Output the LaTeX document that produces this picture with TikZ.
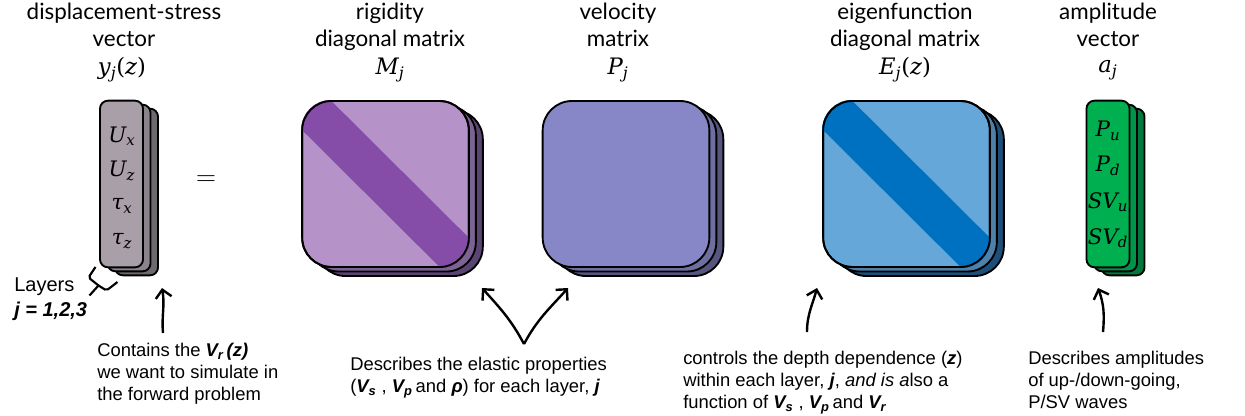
\documentclass[tikz,border=0pt]{standalone}
\usepackage{fontspec}
\setmainfont{Liberation Sans}
\newfontfamily\hfont{Lato}
\newfontfamily\mfont{DejaVu Serif}
\newcommand\mi[1]{{\mfont\itshape #1}}
\newcommand\mup[1]{{\mfont #1}}
\newcommand\msub[2]{\mi{#1}\textsubscript{\mi{#2}}}
\usetikzlibrary{arrows.meta}
\definecolor{gA}{HTML}{A99FA9}
\definecolor{gB}{HTML}{8B838B}
\definecolor{gC}{HTML}{6E686F}
\definecolor{pA}{HTML}{B593C9}
\definecolor{pBand}{HTML}{854DA8}
\definecolor{pB}{HTML}{7D6294}
\definecolor{pC}{HTML}{5A4572}
\definecolor{vA}{HTML}{8787C7}
\definecolor{vB}{HTML}{6E6EA0}
\definecolor{vC}{HTML}{55557F}
\definecolor{bA}{HTML}{65A7D9}
\definecolor{bBand}{HTML}{0071C1}
\definecolor{bB}{HTML}{4E80A8}
\definecolor{bC}{HTML}{1E4F78}
\definecolor{grA}{HTML}{00B050}
\definecolor{grB}{HTML}{00944A}
\definecolor{grC}{HTML}{007A3C}
\begin{document}
\begin{tikzpicture}[x=0.75pt,y=-0.75pt,
  hdr/.style={font=\hfont\fontsize{16.8}{20.25}\selectfont, align=center, anchor=north, inner sep=0pt},
  hmath/.style={font=\fontsize{17}{20}\selectfont, inner sep=0pt},
  desc/.style={font=\fontsize{13.8}{16.6}\selectfont, align=left, anchor=north west, inner sep=0pt},
  vecbox/.style={draw=black, line width=1.4pt, rounded corners=6pt, minimum width=32.3pt, minimum height=125pt, inner sep=0pt},
  matbox/.style={draw=black, line width=1.4pt, rounded corners=22pt, minimum width=125pt, minimum height=124.5pt, inner sep=0pt},
  ent/.style={font=\fontsize{16}{19}\selectfont, inner sep=0pt},
  arr/.style={line width=1.8pt, -{Straight Barb[length=6pt,width=12pt,line width=1.8pt]}},
]
\useasboundingbox (0,0) rectangle (1245,415);

% ---------- headers ----------
\node[hdr] (h1) at (124,3) {displacement-stress\\vector};
\node[hmath] (h1m) at (122,70) {\msub{y}{j}\mup{(}\mi{z}\mup{)}};
\node[hdr] (h2) at (390,3) {rigidity\\diagonal matrix};
\node[hmath] (h2m) at (390,70) {\msub{M}{j}};
\node[hdr] (h3) at (618,3) {velocity\\matrix};
\node[hmath] (h3m) at (618,70) {\msub{P}{j}};
\node[hdr] (h4) at (905,3) {eigenfunction\\diagonal matrix};
\node[hmath] (h4m) at (905,70) {\msub{E}{j}\mup{(}\mi{z}\mup{)}};
\node[hdr] (h5) at (1108,3) {amplitude\\vector};
\node[hmath] (h5m) at (1108,70) {\msub{a}{j}};

% ---------- displacement-stress vector ----------
\node[vecbox, fill=gC] (y3) at (136.5,192) {};
\node[vecbox, fill=gB] (y2) at (129,188) {};
\node[vecbox, fill=gA] (y1) at (121.5,184) {};
\node[ent] (ux) at (122,136) {\msub{U}{x}};
\node[ent] (uz) at (122,171) {\msub{U}{z}};
\node[ent] (tx) at (122,206) {\msub{τ}{x}};
\node[ent] (tz) at (122,241) {\msub{τ}{z}};

\node[font=\fontsize{21}{24}\selectfont, inner sep=0pt] (eq) at (206,181) {$=$};

% ---------- rigidity matrix ----------
\node[matbox, fill=pC] (m3) at (399.5,193) {};
\node[matbox, fill=pB] (m2) at (392.5,188.5) {};
\node[matbox, fill=pA] (m1) at (385.5,184) {};
\begin{scope}
  \clip[rounded corners=22pt] (m1.south west) rectangle (m1.north east);
  \draw[pBand, line width=31pt, line cap=round] ([shift={(6,6)}]m1.north west) -- ([shift={(-13,-13)}]m1.south east);
\end{scope}
\node[matbox] at (m1) {};

% ---------- velocity matrix ----------
\node[matbox, fill=vC] (p3) at (640,193) {};
\node[matbox, fill=vB] (p2) at (633,188.5) {};
\node[matbox, fill=vA] (p1) at (626,184) {};

% ---------- eigenfunction matrix ----------
\node[matbox, fill=bC] (e3) at (920.5,193) {};
\node[matbox, fill=bB] (e2) at (913.5,188.5) {};
\node[matbox, fill=bA] (e1) at (906.5,184) {};
\begin{scope}
  \clip[rounded corners=22pt] (e1.south west) rectangle (e1.north east);
  \draw[bBand, line width=31pt, line cap=round] ([shift={(6,6)}]e1.north west) -- ([shift={(-13,-13)}]e1.south east);
\end{scope}
\node[matbox] at (e1) {};

% ---------- amplitude vector ----------
\node[vecbox, fill=grC] (a3) at (1123,192) {};
\node[vecbox, fill=grB] (a2) at (1115.5,188) {};
\node[vecbox, fill=grA] (a1) at (1108,184) {};
\node[ent] (pu) at (1108,131) {\msub{P}{u}};
\node[ent] (pd) at (1108,166) {\msub{P}{d}};
\node[ent] (svu) at (1108,202) {\msub{SV}{u}};
\node[ent] (svd) at (1108,238) {\msub{SV}{d}};

% ---------- layers label ----------
\node[desc, font=\fontsize{15}{19}\selectfont] (lay) at (14,277) {Layers\\\textbf{\textit{j = 1,2,3}}};
\draw[line width=1.6pt, rounded corners=1.5pt] (95.5,267) -- (88.5,277.5) -- (98.5,285.5) -- (106.5,290.5) -- (117.5,282);
\draw[line width=1.6pt] (98.5,285.5) -- (89.5,295.5);

% ---------- descriptions ----------
\node[desc] (d1) at (97,343) {Contains the \textbf{\textit{V\textsubscript{r}\,(z)}}\\we want to simulate in\\the forward problem};
\node[desc] (d2) at (350,357) {Describes the elastic properties\\(\textbf{\textit{V\textsubscript{s}}} , \textbf{\textit{V\textsubscript{p}}}\,and \textbf{\textit{ρ}}) for each layer, \textbf{\textit{j}}};
\node[desc] (d3) at (683,351) {controls the depth dependence (\textbf{\textit{z}})\\within each layer, \textbf{\textit{j}}, \textit{and is a}lso a\\function of \textbf{\textit{V\textsubscript{s}}} , \textbf{\textit{V\textsubscript{p}}}\,and \textbf{\textit{V\textsubscript{r}}}};
\node[desc] (d4) at (1028,351) {Describes amplitudes\\of up-/down-going,\\P/SV waves};

% ---------- arrows ----------
\coordinate (s1) at (163,333);
\coordinate (t1) at (162,288);
\draw[arr] (s1) to[out=95,in=-80] (t1);
\coordinate (s2) at (524,344);
\coordinate (t2a) at (482,288);
\coordinate (t2b) at (568,288);
\draw[arr] (s2) to[out=118,in=-48] (t2a);
\draw[arr] (s2) to[out=62,in=-132] (t2b);
\coordinate (s3) at (807,332);
\coordinate (t3) at (817,288);
\draw[arr] (s3) to[out=90,in=-105] (t3);
\coordinate (s4) at (1103,332);
\coordinate (t4) at (1098,288);
\draw[arr] (s4) to[out=85,in=-70] (t4);
\end{tikzpicture}
\end{document}
